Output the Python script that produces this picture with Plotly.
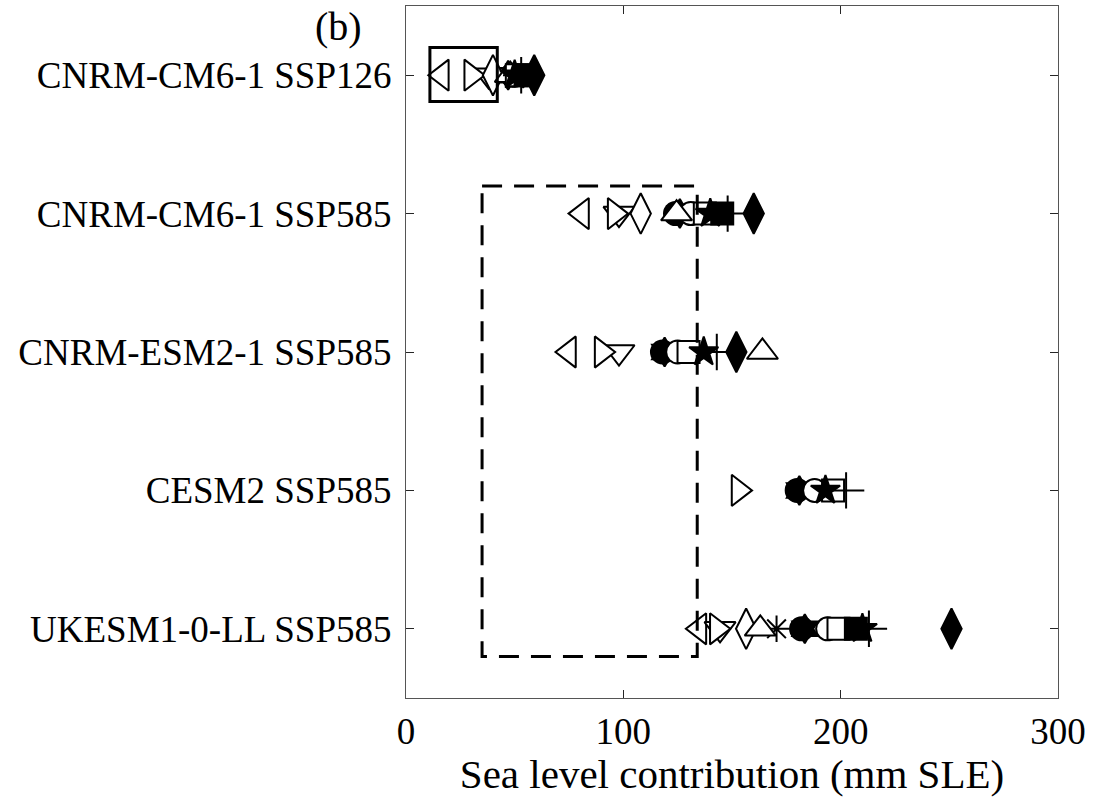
import plotly.graph_objects as go

# Experiment rows (top to bottom)
experiments = [
    "CNRM-CM6-1 SSP126",
    "CNRM-CM6-1 SSP585",
    "CNRM-ESM2-1 SSP585",
    "CESM2 SSP585",
    "UKESM1-0-LL SSP585",
]
row_pos = [1, 2, 3, 4, 5]

# Sea level contribution (mm SLE) per ice-sheet model, one value per experiment row
circle_filled   = [49, 124, 118, 180, 182]
hexagram_filled = [47, 126, 119, 181, 183.5]
tri_left        = [16.5, 81, 75, None, 135]
tri_down        = [38, 98, 98, None, 144.5]
tri_right       = [30, 96, 90, 153, 143]
diamond_open    = [40, 108, None, None, 156.5]
asterisk        = [None, None, None, None, 170.5]
circle_open     = [50, 131, 125, 188, 194]
tri_up          = [48, 124.5, 164, None, 163]
square_open     = [51, 137.5, 130, 196.5, 199]
plus            = [53, 148, 143, 202.5, 213]
star_filled     = [50, 140, 137, 193, 210]
square_filled   = [55, 145.5, None, None, 207]
diamond_filled  = [59, 160, 152, None, 251]

# Highlight boxes: (x0, x1, y0, y1) in data units
solid_box = [11, 42, 0.8, 1.19]
dashed_box = [35, 134, 1.8, 5.2]

x_ticks = [0, 100, 200, 300]

FONT = "Liberation Serif"

series = [
    (circle_filled, "circle", 23, "black"),
    (hexagram_filled, "hexagram", 22, "black"),
    (tri_left, "triangle-left", 27, "white"),
    (tri_down, "triangle-down", 27, "white"),
    (tri_right, "triangle-right", 27, "white"),
    (diamond_open, "diamond-tall", 29, "white"),
    (asterisk, "asterisk-open", 22, None),
    (circle_open, "circle", 23, "white"),
    (tri_up, "triangle-up", 27, "white"),
    (square_open, "square", 22, "white"),
    (plus, "cross-thin-open", 26, None),
    (star_filled, "star", 22, "black"),
    (square_filled, "square", 22, "black"),
    (diamond_filled, "diamond-tall", 29, "black"),
]

fig = go.Figure()
for vals, sym, size, fill in series:
    xs = [v for v in vals if v is not None]
    ys = [p for v, p in zip(vals, row_pos) if v is not None]
    marker = dict(symbol=sym, size=size, line=dict(color="black", width=2))
    marker["color"] = fill if fill is not None else "black"
    fig.add_trace(go.Scatter(x=xs, y=ys, mode="markers", marker=marker,
                             showlegend=False, hoverinfo="x+y"))

fig.add_shape(type="rect", xref="x", yref="y",
              x0=solid_box[0], x1=solid_box[1], y0=solid_box[2], y1=solid_box[3],
              line=dict(color="black", width=3), layer="above")
fig.add_shape(type="rect", xref="x", yref="y",
              x0=dashed_box[0], x1=dashed_box[1], y0=dashed_box[2], y1=dashed_box[3],
              line=dict(color="black", width=3, dash="20px,12px"), layer="above")

fig.add_annotation(text="(b)", xref="paper", yref="paper", x=-0.104, y=0.97,
                   xanchor="center", yanchor="middle", showarrow=False,
                   font=dict(family=FONT, size=40, color="black"))

fig.update_layout(
    width=1111, height=797,
    margin=dict(l=406, r=53, t=6, b=99),
    plot_bgcolor="white", paper_bgcolor="white",
    font=dict(family=FONT, size=37, color="black"),
)
fig.update_xaxes(
    range=[0, 300], tickvals=x_ticks, ticktext=[str(t) for t in x_ticks],
    showgrid=False, zeroline=False,
    showline=True, linecolor="#555555", linewidth=1.2, mirror="ticks",
    ticks="inside", ticklen=8, tickwidth=1.2, tickcolor="#262626",
    title=dict(text="Sea level contribution (mm SLE)", font=dict(family=FONT, size=41), standoff=4),
    tickfont=dict(family=FONT, size=37),
)
fig.update_yaxes(
    range=[5.5, 0.5], tickvals=row_pos, ticktext=experiments,
    showgrid=False, zeroline=False,
    showline=True, linecolor="#555555", linewidth=1.2, mirror="ticks",
    ticks="inside", ticklen=8, tickwidth=1.2, tickcolor="#262626",
    tickfont=dict(family=FONT, size=37), ticklabelstandoff=6,
)

fig.write_html("out.html")
